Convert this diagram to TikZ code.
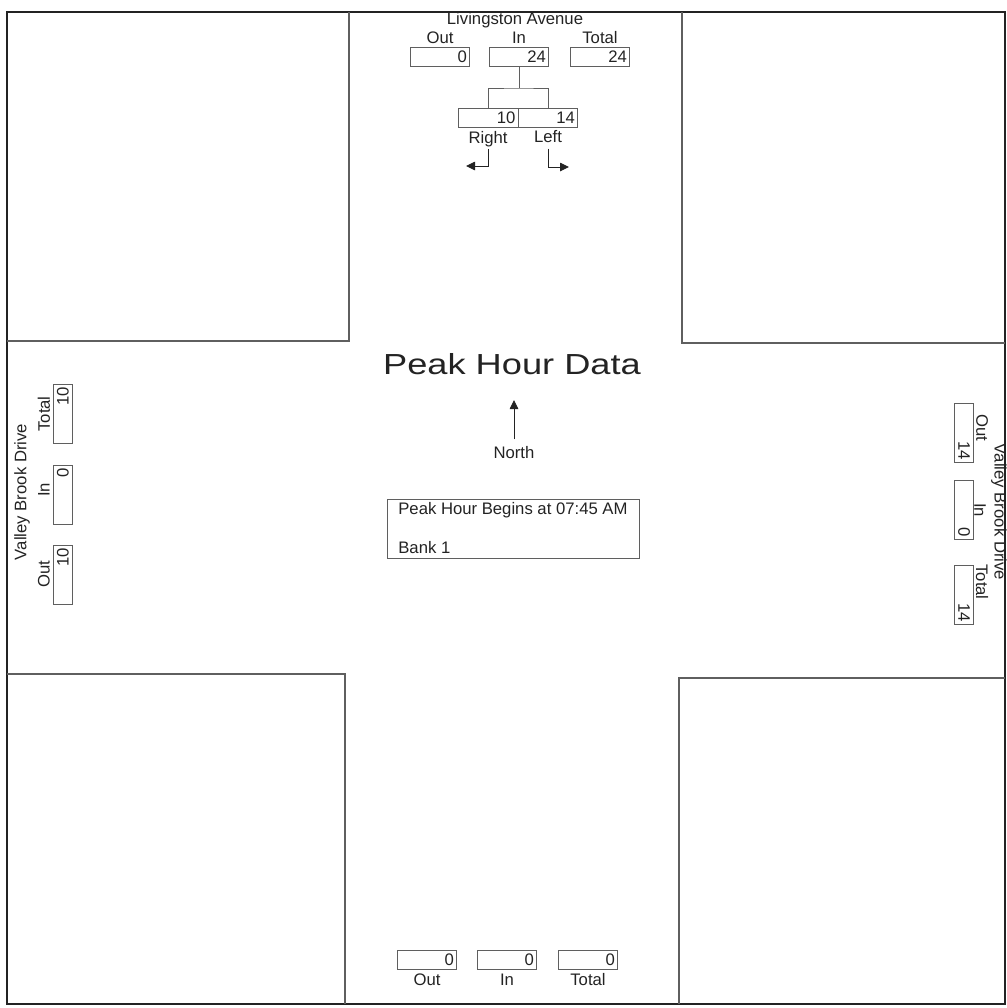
\documentclass[tikz,border=0pt]{standalone}
\usepackage{fontspec}
\setmainfont{Liberation Sans}
\usepackage{graphicx}
\usetikzlibrary{arrows.meta}
\definecolor{inkgray}{RGB}{35,35,35}
\definecolor{linegray}{RGB}{95,95,95}
\tikzset{
  cnt/.style  ={rectangle, draw=linegray, line width=0.5pt, text width=1.08cm, align=right,
                inner xsep=1.5pt, inner ysep=0pt, minimum height=0.38cm, text=inkgray,
                font=\fontsize{9.5}{10}\selectfont},
  lbl/.style  ={inner sep=0pt, text=inkgray, font=\fontsize{9.5}{10}\selectfont},
  block/.style={draw=linegray, line width=0.6pt},
  turn/.style ={-{Triangle[length=1.8mm,width=1.7mm]}, line width=0.5pt, draw=inkgray},
}

\begin{document}
\begin{tikzpicture}[x=0.02cm, y=-0.02cm]
\useasboundingbox (0,0) rectangle (1007,1008);
\draw[line width=1.2pt, draw=inkgray] (7,12) rectangle (1005,1004);
\draw[block] (7,341) -| (349,12);
\draw[block] (682,12) |- (1005,343);
\draw[block] (7,674) -| (345,1004);
\draw[block] (1005,678) -| (679,1004);

\node[lbl] (nname) at (515,20) {Livingston Avenue};
\foreach \n/\t/\x/\v in {nOut/Out/440/0, nIn/In/519/24, nTot/Total/600/24} {
  \node[lbl] (\n L) at (\x,38) {\t};
  \node[cnt] (\n) at (\x,57) {\v};
}
\node[cnt] (nRt) at (488.5,118) {10};
\node[cnt] (nLt) at (548,118) {14};
\coordinate (nSplit) at (519,88);
\draw[block, line width=0.5pt] (nIn) -- (nSplit);
\draw[block, line width=0.5pt] (nRt.north) |- (nSplit) -| (nLt.north);
\node[lbl] (nRtL) at (488,139) {Right};
\node[lbl] (nLtL) at (548,137) {Left};
\coordinate (nRtEnd) at (466,166);
\coordinate (nLtEnd) at (569,167);
\draw[turn] ([yshift=-1pt]nRtL.south) |- (nRtEnd);
\draw[turn] ([yshift=-3pt]nLtL.south) |- (nLtEnd);

\node[text=inkgray, font=\fontsize{16.5}{20}\selectfont] (title) at (512,364) {\scalebox{1.25}[1]{Peak Hour Data}};
\node[lbl] (north) at (514,453) {North};
\coordinate (ntip) at (514,400);
\draw[turn] ([yshift=4pt]north.north) -- (ntip);

\node[draw=linegray, line width=0.5pt, minimum width=5.04cm, minimum height=1.18cm, inner sep=0pt] (info) at (513,528.5) {};
\node[lbl, anchor=west] (begin) at (398,510) {Peak Hour Begins at 07:45 AM};
\node[lbl, anchor=west] (bank) at (398,548) {Bank 1};

\node[lbl, rotate=90] (wname) at (22,492) {Valley Brook Drive};
\foreach \n/\t/\y in {wTot/Total/414, wIn/In/490, wOut/Out/574} {
  \node[lbl, rotate=90] (\n L) at (44,\y) {\t};
}
\node[cnt, rotate=90] (wTot) at (63,414) {10};
\node[cnt, rotate=90] (wIn) at (63,495) {0};
\node[cnt, rotate=90] (wOut) at (63,575) {10};

\node[lbl, rotate=-90] (ename) at (999,512) {Valley Brook Drive};
\node[lbl, rotate=-90] (eOutL) at (982,428) {Out};
\node[lbl, rotate=-90] (eInL) at (980,510) {In};
\node[lbl, rotate=-90] (eTotL) at (982,582) {Total};
\node[cnt, rotate=-90] (eOut) at (964,433) {14};
\node[cnt, rotate=-90] (eIn) at (964,510) {0};
\node[cnt, rotate=-90] (eTot) at (964,595) {14};

\foreach \n/\t/\x/\v in {sOut/Out/427/0, sIn/In/507/0, sTot/Total/588/0} {
  \node[cnt] (\n) at (\x,960) {\v};
  \node[lbl] (\n L) at (\x,980) {\t};
}
\end{tikzpicture}
\end{document}
